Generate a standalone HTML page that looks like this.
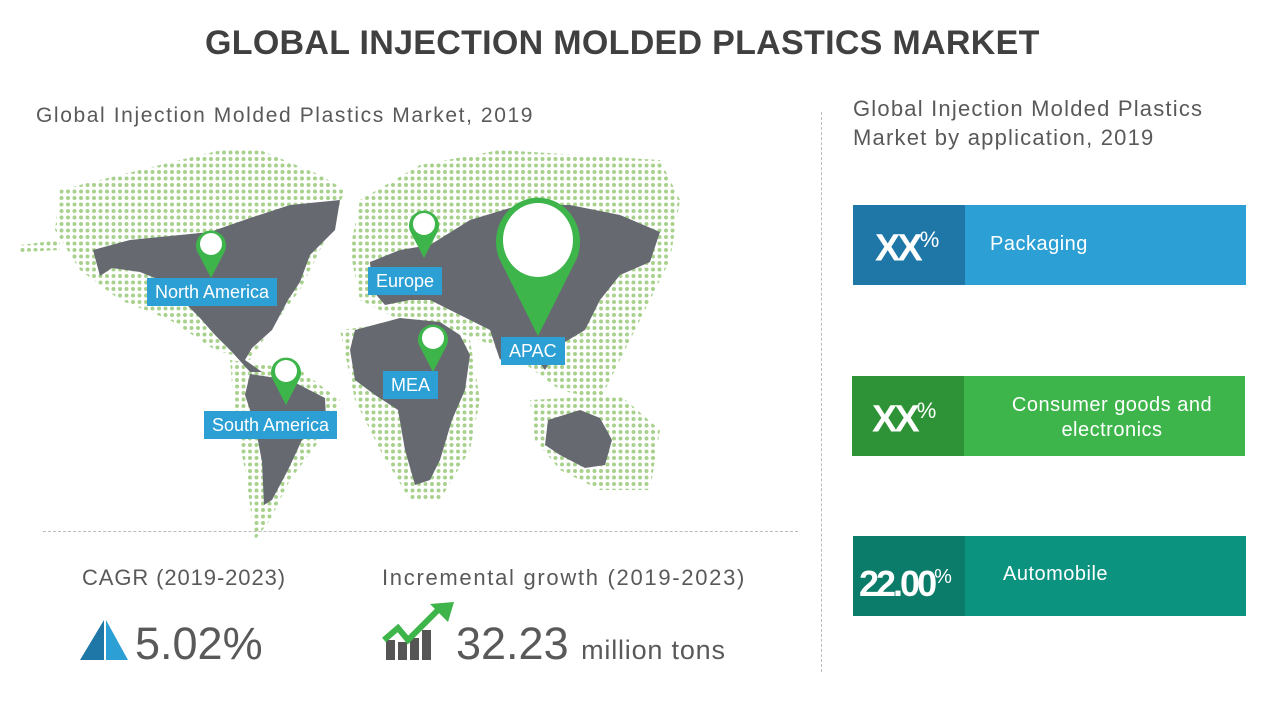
<!DOCTYPE html>
<html><head><meta charset="utf-8"><style>
body{margin:0;width:1280px;height:720px;background:#fff;font-family:"Liberation Sans",sans-serif;position:relative;overflow:hidden;color:#595959}
.a{position:absolute;white-space:nowrap}
.lbl{position:absolute;background:#2c9fd4;color:#fff;font-size:18px;padding:3px 8px;line-height:22px}
.box{position:absolute;left:853px;width:393px;height:80px;color:#fff}
.box .l{position:absolute;left:0;top:0;width:112px;height:100%;font-size:38px;font-weight:bold;letter-spacing:-3px}
.box .t{position:absolute;font-size:20px;text-align:center;letter-spacing:.5px}
</style></head><body>
<div class="a" style="left:205px;top:24px;font-size:34px;font-weight:bold;color:#404040;letter-spacing:.3px">GLOBAL INJECTION MOLDED PLASTICS MARKET</div>
<div class="a" style="left:36px;top:104px;font-size:21px;letter-spacing:1.6px">Global Injection Molded Plastics Market, 2019</div>
<div class="a" style="left:853px;top:94px;font-size:22px;line-height:29px;letter-spacing:1.2px">Global Injection Molded Plastics<br>Market by application, 2019</div>
<div class="a" style="left:821px;top:112px;height:560px;border-left:1px dashed #bbb"></div>
<div class="a" style="left:43px;top:531px;width:755px;border-top:1px dashed #bbb"></div>

<svg class="a" style="left:0;top:0" width="820" height="560">
<defs><pattern id="d" width="6.5" height="6.5" patternUnits="userSpaceOnUse"><circle cx="3" cy="3" r="2" fill="#a9d18e"/></pattern></defs>
<g fill="url(#d)">
<polygon points="60,190 120,175 180,160 230,148 260,150 320,175 345,190 330,230 300,290 270,330 250,360 215,350 170,320 120,300 80,270 55,230"/>
<polygon points="230,360 300,370 340,400 320,440 290,480 270,520 255,540 245,470 235,420"/>
<polygon points="360,200 420,165 500,150 580,155 660,160 680,200 670,260 650,300 620,360 600,400 560,390 520,360 480,340 450,330 400,320 360,300 350,250"/>
<polygon points="340,330 420,320 470,340 480,400 470,450 440,500 410,500 380,450 355,400"/>
<polygon points="530,400 620,395 660,430 650,490 600,490 560,470 535,440"/>
<polygon points="20,245 60,240 60,250 20,252"/>
</g>
<g fill="#666a70">
<polygon points="93,250 130,240 170,236 210,232 250,218 290,205 340,200 335,230 310,255 300,282 288,300 272,330 252,348 245,360 262,372 250,372 232,352 215,335 200,318 182,300 165,282 140,272 112,268 100,276"/>
<polygon points="250,374 290,380 325,398 326,418 302,440 288,470 272,500 264,505 262,462 255,425 245,395"/>
<polygon points="370,262 400,250 430,245 470,220 520,205 570,205 620,215 660,232 650,262 620,275 600,300 585,330 560,345 545,370 530,350 515,340 500,360 490,330 470,320 450,310 430,300 410,300 385,305 372,290"/>
<polygon points="355,330 400,318 440,322 460,335 470,355 465,390 452,420 440,460 430,480 415,485 405,450 398,410 375,395 355,380 350,350"/>
<polygon points="548,420 580,410 600,418 612,440 605,465 585,468 560,455 545,445"/>
</g>
<g fill="#3db54a">
<path d="M211,278 L197,251 A15,15 0 1 1 225,251 Z"/>
<path d="M286,405 L272,378 A15,15 0 1 1 300,378 Z"/>
<path d="M424,258 L410,231 A15,15 0 1 1 438,231 Z"/>
<path d="M433,372 L419,345 A15,15 0 1 1 447,345 Z"/>
<path d="M538,336 L499,258 A42,44 0 1 1 577,258 Z"/>
</g>
<g fill="#fff">
<circle cx="211" cy="244" r="11"/><circle cx="286" cy="371" r="11"/><circle cx="424" cy="224" r="11"/><circle cx="433" cy="338" r="11"/><ellipse cx="538" cy="240" rx="35" ry="37"/>
</g>
</svg>
<div class="lbl" style="left:147px;top:278px">North America</div>
<div class="lbl" style="left:368px;top:267px">Europe</div>
<div class="lbl" style="left:501px;top:337px">APAC</div>
<div class="lbl" style="left:383px;top:371px">MEA</div>
<div class="lbl" style="left:204px;top:411px">South America</div>

<div class="a" style="left:82px;top:565px;font-size:22px;letter-spacing:.9px">CAGR (2019-2023)</div>
<div class="a" style="left:382px;top:565px;font-size:22px;letter-spacing:1.7px">Incremental growth (2019-2023)</div>
<svg class="a" style="left:80px;top:620px" width="50" height="42"><polygon points="24,0 0,40 24,40" fill="#1f77a8"/><polygon points="26,0 26,40 48,40" fill="#2c9fd4"/></svg>
<div class="a" style="left:135px;top:618px;font-size:45px">5.02%</div>
<svg class="a" style="left:380px;top:600px" width="80" height="62"><rect x="6" y="40" width="9" height="20" fill="#555"/><rect x="18" y="42" width="9" height="18" fill="#555"/><rect x="30" y="38" width="9" height="22" fill="#555"/><rect x="42" y="30" width="9" height="30" fill="#555"/><polyline points="4,40 18,28 28,40 60,8" fill="none" stroke="#3db54a" stroke-width="6"/><polygon points="50,4 74,2 68,22" fill="#3db54a"/></svg>
<div class="a" style="left:456px;top:618px;font-size:45px">32.23 <span style="font-size:27px;letter-spacing:.8px">million tons</span></div>

<div class="box" style="top:205px;background:#2c9fd4"><div class="l" style="background:#1f77a8"><span class="a" style="left:22px;top:22px">XX<sup style="font-size:22px;font-weight:normal">%</sup></span></div><div class="t" style="left:137px;top:28px">Packaging</div></div>
<div class="box" style="top:376px;background:#3db54a;left:852px"><div class="l" style="background:#2e9336"><span class="a" style="left:20px;top:22px">XX<sup style="font-size:22px;font-weight:normal">%</sup></span></div><div class="t" style="left:120px;width:280px;top:17px;line-height:25px">Consumer goods and<br>electronics</div></div>
<div class="box" style="top:536px;background:#0c9380"><div class="l" style="background:#0b7b6a"><span class="a" style="left:6px;top:27px;font-size:36px">22.00<sup style="font-size:20px;font-weight:normal">%</sup></span></div><div class="t" style="left:150px;top:27px">Automobile</div></div>
</body></html>
